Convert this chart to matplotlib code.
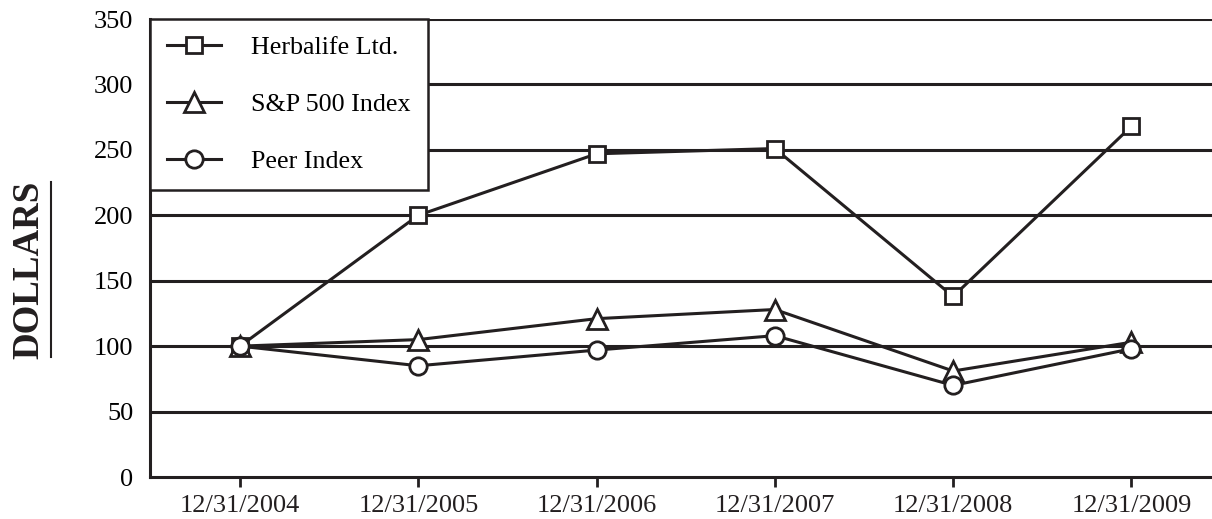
import matplotlib
matplotlib.use("Agg")
import matplotlib.pyplot as plt
from matplotlib.lines import Line2D

dates = ["12/31/2004", "12/31/2005", "12/31/2006", "12/31/2007", "12/31/2008", "12/31/2009"]
herbalife = [100, 200, 247, 251, 138, 268]
sp500 = [100, 105, 121, 128, 81, 103]
peer = [100, 85, 97, 108, 70, 98]
yticks = [0, 50, 100, 150, 200, 250, 300, 350]

plt.rcParams['font.family'] = ['Liberation Serif', 'DejaVu Serif']

fig = plt.figure(figsize=(12.12, 5.19), dpi=100)
ax = fig.add_axes([150/1212, 1 - 477/519, (1212 - 150)/1212 + 0.01, (477 - 19)/519])

x = list(range(len(dates)))
for yv in yticks[1:]:
    ax.axhline(yv, color='#231f20', lw=2.2, zorder=1)

style = dict(color='#231f20', lw=2.2, markerfacecolor='white', markeredgecolor='#231f20', markeredgewidth=2, zorder=3)
ax.plot(x, herbalife, marker='s', markersize=12, label='Herbalife Ltd.', **style)
ax.plot(x, sp500, marker='^', markersize=15, label='S&P 500 Index', **style)
ax.plot(x, peer, marker='o', markersize=12.5, label='Peer Index', **style)

ax.set_xlim(-0.505, 5.52)
ax.set_ylim(0, 350)
ax.set_xticks(x)
ax.set_xticklabels(dates, fontsize=19)
ax.set_yticks(yticks)
ax.set_yticklabels([str(v) for v in yticks], fontsize=19)
ax.tick_params(axis='y', length=0, pad=12)
ax.tick_params(axis='x', length=7.2, width=2, direction='out', pad=6, colors='#231f20')
for s in ['top', 'right']:
    ax.spines[s].set_visible(False)
for s in ['left', 'bottom']:
    ax.spines[s].set_linewidth(2.2)
    ax.spines[s].set_color('#231f20')

leg = ax.legend(loc='upper left', bbox_to_anchor=(0, 1), fontsize=18.7, frameon=True,
                fancybox=False, edgecolor='#231f20', framealpha=1, borderaxespad=0,
                handlelength=2.1, labelspacing=1.3, borderpad=0.65, handletextpad=1.15)
leg.get_frame().set_linewidth(1.8)
leg.set_zorder(5)

fig.text(29/1212, 1 - 270/519, 'DOLLARS', rotation=90, fontsize=26.6, fontweight='bold',
         ha='center', va='center', color='#231f20')
fig.add_artist(Line2D([51/1212, 51/1212], [1 - 182/519, 1 - 357/519], color='#231f20', lw=1.5))

fig.savefig('out.png', dpi=100)
